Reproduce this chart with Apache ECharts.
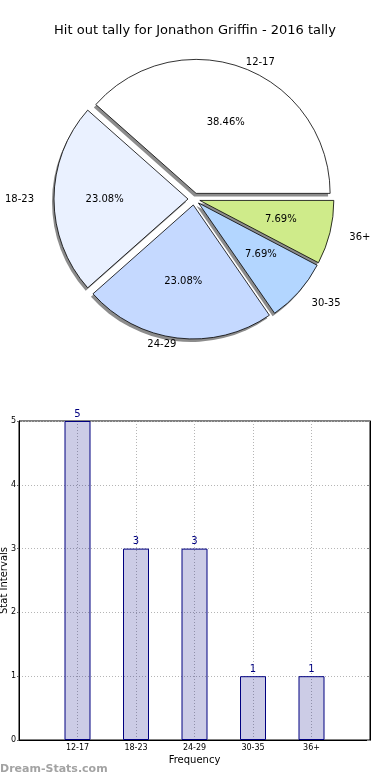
<!DOCTYPE html>
<html>
<head>
<meta charset="utf-8">
<script src="https://cdn.jsdelivr.net/npm/echarts@6/dist/echarts.min.js"></script>
<style>
html,body{margin:0;padding:0;background:#fff;}
#chart{width:390px;height:780px;}
</style>
</head>
<body>
<div id="chart"></div>
<script>
var titleText = 'Hit out tally for Jonathon Griffin - 2016 tally';
var categories = ['12-17', '18-23', '24-29', '30-35', '36+'];
var counts = [5, 3, 3, 1, 1];
var sliceColors = ['#ffffff', '#eaf1ff', '#c5d9ff', '#b3d6ff', '#cfeb8a'];
var yTicks = [0, 1, 2, 3, 4, 5];
var xAxisTitle = 'Frequency';
var yAxisTitle = 'Stat Intervals';
var watermark = 'Dream-Stats.com';

var FONT = 'DejaVu Sans';
var total = counts.reduce(function (a, b) { return a + b; }, 0);

// per-slice label styling (the reference pie is slightly elliptical)
var nameLabelLen = [6, 20, 6, 17, 20];
var pctLabelShift = [7, 0, -6, -4, -1];

var pieData = categories.map(function (c, i) {
  return {
    name: c, value: counts[i], selected: true,
    itemStyle: { color: sliceColors[i] },
    labelLine: { length: nameLabelLen[i], length2: 0, show: false }
  };
});
var pctData = categories.map(function (c, i) {
  return { name: c, value: counts[i], selected: true };
});
var shadowData = categories.map(function (c, i) {
  return { name: c, value: counts[i], selected: true };
});

var pctRich = { t: { fontFamily: FONT, fontSize: 10, color: '#000', lineHeight: 12 } };
pctLabelShift.forEach(function (s, i) {
  pctRich['g' + i] = { fontSize: 1, lineHeight: Math.max(1, Math.abs(s) * 2) };
});
function pctFormatter(p) {
  var txt = '{t|' + (p.value / total * 100).toFixed(2) + '%}';
  var s = pctLabelShift[p.dataIndex];
  if (s > 0) return '{g' + p.dataIndex + '| }\n' + txt;
  if (s < 0) return txt + '\n{g' + p.dataIndex + '| }';
  return txt;
}

// padded category axis so ticks fall at 1..5 of a 0..6 range
var xCats = [''].concat(categories).concat(['']);
var barVals = [null].concat(counts).concat([null]);

var PIE_C = [194, 199];
var PIE_R = 134;

var chart = echarts.init(document.getElementById('chart'), null, { renderer: 'canvas' });
chart.setOption({
  animation: false,
  backgroundColor: '#ffffff',
  textStyle: { fontFamily: FONT },
  title: {
    text: titleText,
    left: 'center',
    top: 19,
    textStyle: { fontFamily: FONT, fontSize: 13, fontWeight: 'normal', color: '#000' }
  },
  graphic: [{
    type: 'text',
    left: 0,
    top: 764,
    style: { text: watermark, font: 'bold 11px "DejaVu Sans"', fill: '#a3a3a3' }
  }],
  grid: {
    left: 19, right: 20, top: 421, bottom: 40,
    containLabel: false,
    outerBoundsMode: 'none',
    show: true, borderColor: '#000', borderWidth: 1, backgroundColor: 'transparent'
  },
  xAxis: {
    type: 'category',
    data: xCats,
    boundaryGap: false,
    name: xAxisTitle,
    nameLocation: 'middle',
    nameGap: 15,
    nameMoveOverlap: false,
    nameTextStyle: { fontFamily: FONT, fontSize: 10, color: '#000' },
    axisLine: { lineStyle: { color: '#000', width: 1 } },
    axisTick: { show: false },
    axisLabel: { interval: 0, fontSize: 8, color: '#000', margin: 4, fontFamily: FONT },
    splitLine: { show: true, interval: 0, lineStyle: { color: '#b5b5b5', type: [1, 2], width: 1 } }
  },
  yAxis: [{
    type: 'value',
    min: yTicks[0],
    max: yTicks[yTicks.length - 1],
    interval: 1,
    name: yAxisTitle,
    nameLocation: 'middle',
    nameRotate: 90,
    nameGap: 10,
    nameMoveOverlap: false,
    nameTextStyle: { fontFamily: FONT, fontSize: 10, color: '#000' },
    axisLine: { show: true, lineStyle: { color: '#000', width: 1 } },
    axisTick: { show: true, length: 2, lineStyle: { color: '#666' } },
    axisLabel: { fontSize: 8, color: '#000', margin: 3, fontFamily: FONT },
    splitLine: { show: true, lineStyle: { color: '#b5b5b5', type: [1, 2], width: 1 } }
  }, {
    type: 'value',
    position: 'right',
    min: yTicks[0],
    max: yTicks[yTicks.length - 1],
    interval: 1,
    axisLine: { show: true, lineStyle: { color: '#000', width: 1 } },
    axisTick: { show: true, inside: true, length: 3, lineStyle: { color: '#888' } },
    axisLabel: { show: false },
    splitLine: { show: false }
  }],
  series: [{
    // shadow layer
    type: 'pie',
    center: [PIE_C[0] - 2, PIE_C[1] + 3],
    radius: PIE_R,
    startAngle: 0,
    clockwise: false,
    avoidLabelOverlap: false,
    selectedMode: 'multiple',
    selectedOffset: 6,
    silent: true,
    z: 1,
    itemStyle: { color: '#8c8c8c', borderWidth: 0 },
    label: { show: false },
    labelLine: { show: false },
    emphasis: { disabled: true },
    data: shadowData
  }, {
    type: 'pie',
    center: PIE_C,
    radius: PIE_R,
    startAngle: 0,
    clockwise: false,
    avoidLabelOverlap: false,
    selectedMode: 'multiple',
    selectedOffset: 6,
    silent: true,
    z: 2,
    itemStyle: { borderColor: '#000', borderWidth: 0.8 },
    label: {
      show: true,
      position: 'outside',
      formatter: '{b}',
      fontFamily: FONT,
      fontSize: 10,
      color: '#000',
      distanceToLabelLine: 0
    },
    labelLine: { show: false, length: 13, length2: 0 },
    emphasis: { disabled: true },
    data: pieData
  }, {
    type: 'pie',
    center: PIE_C,
    radius: [PIE_R * 0.2, PIE_R],
    startAngle: 0,
    clockwise: false,
    avoidLabelOverlap: false,
    selectedMode: 'multiple',
    selectedOffset: 6,
    silent: true,
    z: 3,
    itemStyle: { color: 'rgba(0,0,0,0)', borderWidth: 0 },
    label: {
      show: true,
      position: 'inside',
      formatter: pctFormatter,
      rich: pctRich,
      fontFamily: FONT,
      fontSize: 10,
      color: '#000'
    },
    labelLine: { show: false },
    emphasis: { disabled: true },
    data: pctData
  }, {
    type: 'bar',
    data: barVals,
    barWidth: 26,
    xAxisIndex: 0,
    yAxisIndex: 0,
    itemStyle: { color: 'rgba(0,0,128,0.2)', borderColor: '#000080', borderWidth: 1 },
    label: { show: true, position: 'top', distance: 2, fontSize: 10, color: '#000080', fontFamily: FONT },
    emphasis: { disabled: true }
  }]
});
</script>
</body>
</html>
